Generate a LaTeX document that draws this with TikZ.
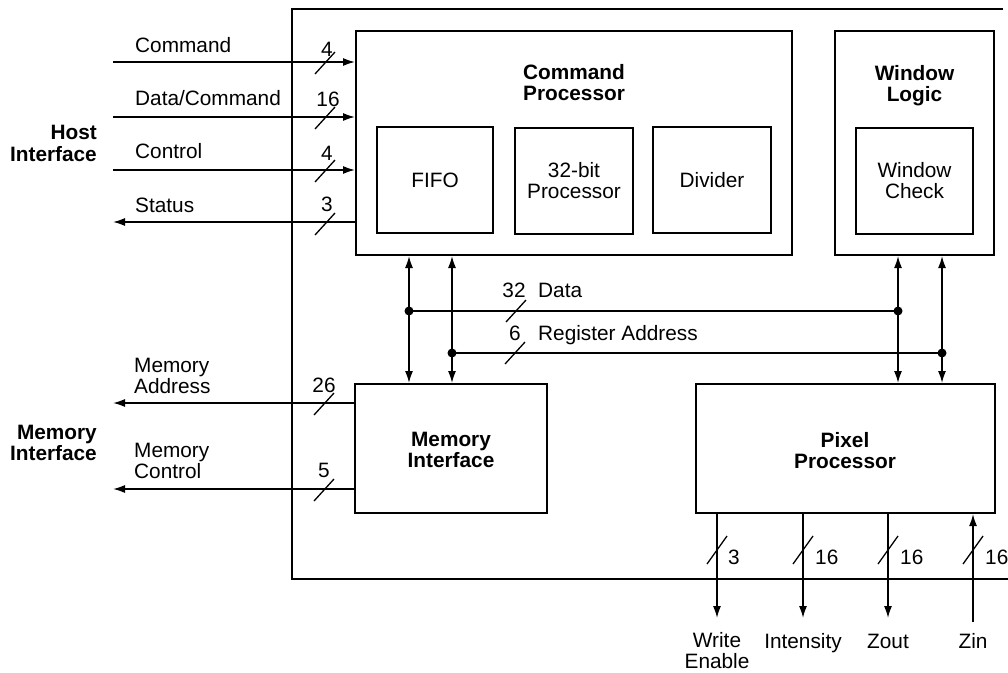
\documentclass[tikz,border=0pt]{standalone}
\usepackage{fontspec}
\setmainfont{Liberation Sans}
\usetikzlibrary{arrows.meta}
\begin{document}
\begin{tikzpicture}[x=1pt,y=-1pt,
  box/.style={draw, line width=2pt, rectangle, inner sep=0pt, align=center, font=\fontsize{20.8}{21}\selectfont},
  wire/.style={line width=1.6pt},
  arr/.style={wire, -{Latex[length=12pt,width=8pt]}},
  barr/.style={wire, {Latex[length=12pt,width=8pt]}-{Latex[length=12pt,width=8pt]}},
  txt/.style={font=\fontsize{20.8}{21}\selectfont, inner sep=0pt},
  btxt/.style={font=\fontsize{20.8}{21}\selectfont\bfseries, inner sep=0pt},
  pics/slash/.style={code={\draw[line width=1.3pt] (-10,11) -- (10,-11);}},
  pics/vslash/.style={code={\draw[line width=1.3pt] (-10,14) -- (10,-14);}},
]
\useasboundingbox (0,0) rectangle (1008,672);

% outer chip boundary
\draw[line width=2.2pt] (1003,9) -- (292,9) -- (292,579) -- (1008,579);

% blocks
\node[box, minimum width=436pt, minimum height=224pt] (cp) at (574,143) {};
\node[btxt, anchor=base, align=center] (cpt) at (574,100) {Command\\Processor};
\node[box, minimum width=116pt, minimum height=106pt] (fifo) at (435,180) {FIFO};
\node[box, minimum width=118pt, minimum height=106pt] (proc) at (574,181) {32-bit\\Processor};
\node[box, minimum width=118pt, minimum height=106pt] (div) at (712,180) {Divider};

\node[box, minimum width=159pt, minimum height=224pt] (wl) at (914.5,143) {};
\node[btxt, anchor=base, align=center] (wlt) at (914.5,101) {Window\\Logic};
\node[box, minimum width=117pt, minimum height=106pt] (wc) at (914.5,181) {Window\\Check};

\node[box, minimum width=192pt, minimum height=129pt] (mi) at (451,448.5) {};
\node[btxt, anchor=base, align=center] (mit) at (451,467) {Memory\\Interface};

\node[box, minimum width=299pt, minimum height=129pt] (pp) at (845.5,448.5) {};
\node[btxt, anchor=base, align=center] (ppt) at (845,468) {Pixel\\Processor};

% host interface
\node[btxt, anchor=base east, align=right, font=\fontsize{20.8}{22}\selectfont\bfseries] (hi) at (97,161) {Host\\Interface};
\coordinate (hCmd) at (113,62);
\coordinate (hDC) at (113,117);
\coordinate (hCt) at (113,170);
\coordinate (hSt) at (113,222);
\draw[arr] (hCmd) -- (hCmd -| cp.west);
\draw[arr] (hDC) -- (hDC -| cp.west);
\draw[arr] (hCt) -- (hCt -| cp.west);
\draw[arr] (hSt -| cp.west) -- (hSt);
\node[txt, anchor=base west] (lCmd) at (135,52) {Command};
\node[txt, anchor=base west] (lDC) at (135,105) {Data/Command};
\node[txt, anchor=base west] (lCt) at (135,158) {Control};
\node[txt, anchor=base west] (lSt) at (135,212) {Status};
\node[txt, anchor=base] (nCmd) at (327,56) {4};
\node[txt, anchor=base] (nDC) at (328,106) {16};
\node[txt, anchor=base] (nCt) at (327,160) {4};
\node[txt, anchor=base] (nSt) at (327,211) {3};
\pic at (325,63) {slash};
\pic at (325,118) {slash};
\pic at (325,171) {slash};
\pic at (325,224) {slash};

% internal buses
\coordinate (dA) at (409,311);
\coordinate (dB) at (898,311);
\coordinate (dC) at (452,353);
\coordinate (dD) at (942,353);
\draw[barr] (cp.south -| dA) -- (mi.north -| dA);
\draw[barr] (cp.south -| dC) -- (mi.north -| dC);
\draw[barr] (wl.south -| dB) -- (pp.north -| dB);
\draw[barr] (wl.south -| dD) -- (pp.north -| dD);
\draw[wire] (dA) -- (dB);
\draw[wire] (dC) -- (dD);
\fill (dA) circle (4.5pt);
\fill (dB) circle (4.5pt);
\fill (dC) circle (4.5pt);
\fill (dD) circle (4.5pt);
\pic at (516,311) {slash};
\pic at (515,353) {slash};
\node[txt, anchor=base] (n32) at (514,297) {32};
\node[txt, anchor=base west] (lData) at (538,297) {Data};
\node[txt, anchor=base] (n6) at (515,340) {6};
\node[txt, anchor=base west] (lRA) at (538,340) {Register Address};

% memory interface
\node[btxt, anchor=base east, align=right, font=\fontsize{20.8}{21}\selectfont\bfseries] (memi) at (97,460) {Memory\\Interface};
\coordinate (mA) at (113,403);
\coordinate (mC) at (113,489);
\draw[arr] (mA -| mi.west) -- (mA);
\draw[arr] (mC -| mi.west) -- (mC);
\node[txt, anchor=base west, align=left] (lMA) at (134,393) {Memory\\Address};
\node[txt, anchor=base west, align=left] (lMC) at (134,478) {Memory\\Control};
\node[txt, anchor=base] (n26) at (324,392) {26};
\node[txt, anchor=base] (n5) at (324,477) {5};
\pic at (324,404) {slash};
\pic at (324,490) {slash};

% pixel outputs
\coordinate (oWE) at (717,618);
\coordinate (oI) at (803,618);
\coordinate (oZo) at (888,618);
\coordinate (iZ) at (973,622);
\draw[arr] (pp.south -| oWE) -- (oWE);
\draw[arr] (pp.south -| oI) -- (oI);
\draw[arr] (pp.south -| oZo) -- (oZo);
\draw[arr] (iZ) -- (iZ |- pp.south);
\pic at (717,550) {vslash};
\pic at (803,550) {vslash};
\pic at (888,550) {vslash};
\pic at (973,550) {vslash};
\node[txt, anchor=base west] (nWE) at (728,564) {3};
\node[txt, anchor=base west] (nI) at (815,564) {16};
\node[txt, anchor=base west] (nZo) at (900,564) {16};
\node[txt, anchor=base west] (nZi) at (985,564) {16};
\node[txt, anchor=base, align=center] (lWE) at (717,668) {Write\\Enable};
\node[txt, anchor=base] (lI) at (803,648) {Intensity};
\node[txt, anchor=base] (lZo) at (888,648) {Zout};
\node[txt, anchor=base] (lZi) at (973,648) {Zin};
\end{tikzpicture}
\end{document}
